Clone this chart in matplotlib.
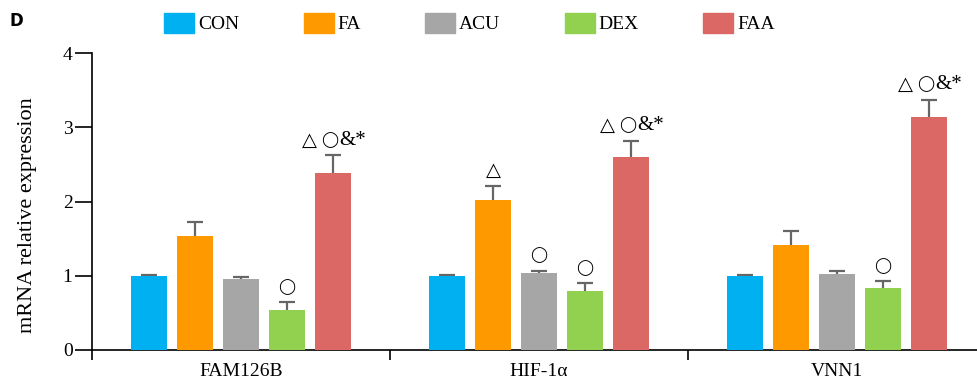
import matplotlib.pyplot as plt
from matplotlib.patches import Patch

# data
genes = ['FAM126B', 'HIF-1α', 'VNN1']
groups = ['CON', 'FA', 'ACU', 'DEX', 'FAA']
colors = ['#00B0F0', '#FF9900', '#A6A6A6', '#92D050', '#DC6866']
means = {
    'CON': [1.00, 1.00, 1.00],
    'FA':  [1.53, 2.02, 1.41],
    'ACU': [0.95, 1.04, 1.03],
    'DEX': [0.54, 0.80, 0.83],
    'FAA': [2.39, 2.60, 3.14],
}
errs = {
    'CON': [0.01, 0.01, 0.01],
    'FA':  [0.19, 0.19, 0.19],
    'ACU': [0.03, 0.03, 0.03],
    'DEX': [0.10, 0.10, 0.10],
    'FAA': [0.23, 0.22, 0.23],
}
# significance marks above bars
marks = {
    'FA':  ['', '△', ''],
    'ACU': ['', '○', ''],
    'DEX': ['○', '○', '○'],
    'FAA': ['△○&*', '△○&*', '△○&*'],
}

serif = ['Liberation Serif', 'DejaVu Sans']
plt.rcParams['font.family'] = serif

fig = plt.figure(figsize=(9.78, 3.83), dpi=100)
ax = fig.add_axes([92/978, 1-350/383, 1-92/978, (350-53)/383])


def put_mark(x, y, s):
    # glyph pieces: (text, x offset in pt, font, size)
    if s == '△':
        parts = [('△', 0, 'DejaVu Sans', 14)]
    elif s == '○':
        parts = [('◯', 0, 'DejaVu Sans', 11)]
    else:
        parts = [('△', -17, 'DejaVu Sans', 14), ('◯', -2, 'DejaVu Sans', 11),
                 ('&*', 14, 'Liberation Serif', 15)]
    for t, dx, fam, fs in parts:
        ax.annotate(t, (x, y), xytext=(dx, 11), textcoords='offset points',
                    ha='center', va='center', fontsize=fs, family=fam)


step = 0.154
width = 0.121
for k, g in enumerate(groups):
    xs = [i + (k-2)*step for i in range(len(genes))]
    ax.bar(xs, means[g], width, color=colors[k], zorder=3)
    eb = ax.errorbar(xs, means[g], yerr=[[0]*3, errs[g]], fmt='none',
                     ecolor='#666666', elinewidth=1.6, capsize=6, capthick=1.6, zorder=1)
    eb[1][0].set_visible(False)  # no cap at bar top
    if g in marks:
        for x, m, e, s in zip(xs, means[g], errs[g], marks[g]):
            if s:
                put_mark(x, m+e, s)

ax.set_xlim(-0.5, 2.473)
ax.set_ylim(0, 4)
ax.set_yticks([0, 1, 2, 3, 4])
ax.set_xticks(range(3))
ax.set_xticklabels(genes)
ax.set_xticks([-0.5, 0.5, 1.5], minor=True)
ax.tick_params(axis='x', which='major', length=0, labelsize=14, pad=9)
ax.tick_params(axis='x', which='minor', length=7, width=1.2, direction='out')
ax.tick_params(axis='y', length=12, width=1.2, labelsize=14, pad=2)
for s in ['top', 'right']:
    ax.spines[s].set_visible(False)
ax.spines['left'].set_linewidth(1.2)
ax.spines['bottom'].set_linewidth(1.2)
ax.set_ylabel('mRNA relative expression', fontsize=16)
ax.yaxis.set_label_coords(-0.062, 0.455)

handles = [Patch(color=c, label=g) for g, c in zip(groups, colors)]
fig.legend(handles=handles, loc='center', bbox_to_anchor=(0.48, 0.94), ncol=5,
           frameon=False, fontsize=14, handlelength=1.55, handleheight=1.2,
           handletextpad=0.2, columnspacing=3.3)

fig.text(0.01, 0.945, 'D', fontsize=12, fontweight='bold', family='DejaVu Sans', va='center')

fig.savefig('out.png', dpi=100)
